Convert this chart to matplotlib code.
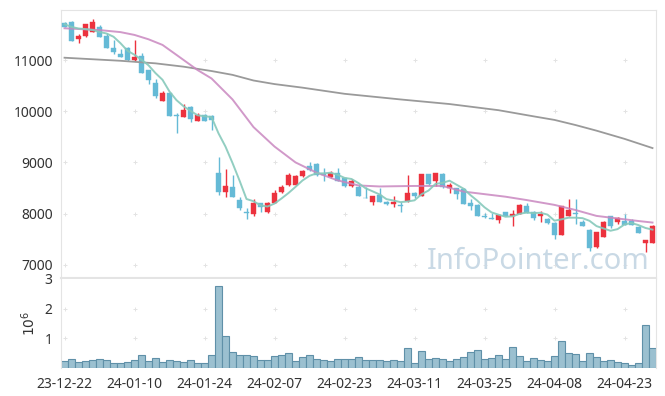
import numpy as np
import pandas as pd
import matplotlib
matplotlib.use("Agg")
import matplotlib.pyplot as plt

# ---------------- data ----------------
start_date = "2023-12-22"
holidays = ["2023-12-25", "2023-12-29", "2024-01-01", "2024-02-09",
            "2024-02-12", "2024-03-01", "2024-04-10"]

opens = [11720, 11740, 11420, 11475, 11550, 11640, 11470, 11235, 11125, 11235,
         11000, 11080, 10805, 10545, 10205, 10350, 9930, 9895, 10090, 9815,
         9925, 9905, 8790, 8430, 8515, 8265, 8040, 7990, 8200, 8040,
         8215, 8420, 8560, 8555, 8735, 8930, 8970, 8775, 8710, 8785,
         8690, 8540, 8515, 8310, 8235, 8365, 8235, 8180, 8170, 8250,
         8410, 8350, 8775, 8645, 8775, 8500, 8495, 8475, 8215, 8170,
         7950, 7920, 7875, 8025, 7955, 7995, 8150, 8040, 7955, 7890,
         7810, 7580, 7960, 8000, 7840, 7680, 7340, 7550, 7955, 7845,
         7855, 7855, 7745, 7420, 7435]
highs = [11740, 11760, 11510, 11710, 11795, 11685, 11535, 11390, 11210, 11260,
         11390, 11130, 10810, 10620, 10390, 10355, 9960, 10140, 10095, 9960,
         9950, 9925, 9110, 8865, 8750, 8330, 8105, 8280, 8210, 8230,
         8460, 8550, 8790, 8760, 8860, 9015, 8990, 8885, 8830, 8885,
         8700, 8670, 8560, 8525, 8350, 8495, 8240, 8345, 8235, 8755,
         8420, 8780, 8780, 8800, 8790, 8605, 8500, 8500, 8280, 8180,
         8005, 8010, 7975, 8040, 8070, 8190, 8210, 8050, 8055, 7920,
         7830, 8155, 8280, 8280, 7870, 7690, 7640, 7860, 7960, 7925,
         7990, 7900, 7760, 7490, 7770]
lows = [11640, 11370, 11330, 11450, 11545, 11450, 11225, 11110, 11060, 10975,
        10985, 10745, 10530, 10250, 10200, 9905, 9570, 9890, 9795, 9810,
        9810, 9630, 8365, 8320, 8325, 8070, 7890, 7955, 8040, 8010,
        8200, 8410, 8540, 8550, 8720, 8840, 8740, 8645, 8700, 8640,
        8520, 8520, 8340, 8295, 8170, 8230, 8170, 8135, 8040, 8230,
        8300, 8340, 8560, 8540, 8500, 8400, 8280, 8180, 8070, 7950,
        7915, 7885, 7825, 7945, 7760, 7990, 8010, 7880, 7840, 7800,
        7500, 7575, 7950, 7790, 7760, 7275, 7335, 7545, 7710, 7800,
        7770, 7770, 7625, 7255, 7430]
closes = [11650, 11380, 11470, 11700, 11735, 11455, 11230, 11155, 11065, 11000,
          11060, 10750, 10610, 10300, 10350, 9910, 9910, 10020, 9840, 9925,
          9815, 9830, 8430, 8540, 8330, 8105, 8020, 8215, 8135, 8215,
          8395, 8515, 8750, 8735, 8840, 8850, 8755, 8750, 8800, 8645,
          8540, 8645, 8350, 8300, 8345, 8235, 8180, 8220, 8140, 8410,
          8345, 8775, 8580, 8790, 8515, 8555, 8385, 8190, 8155, 7960,
          7925, 7890, 7965, 7955, 7995, 8170, 8020, 7910, 7990, 7810,
          7580, 8150, 8070, 7990, 7765, 7320, 7635, 7840, 7765, 7920,
          7780, 7780, 7630, 7485, 7760]
# closes of the 4 sessions before the window (for the 5-day average)
prior_closes = [11650, 11620, 11760, 11820]

volume_millions = [0.22, 0.28, 0.18, 0.22, 0.25, 0.28, 0.24, 0.15, 0.15, 0.18,
                   0.25, 0.41, 0.22, 0.32, 0.18, 0.25, 0.22, 0.18, 0.25, 0.15,
                   0.15, 0.41, 2.76, 1.07, 0.53, 0.41, 0.41, 0.38, 0.25, 0.25,
                   0.38, 0.41, 0.48, 0.22, 0.34, 0.41, 0.29, 0.25, 0.22, 0.28,
                   0.28, 0.28, 0.34, 0.24, 0.24, 0.24, 0.21, 0.24, 0.21, 0.66,
                   0.14, 0.55, 0.28, 0.31, 0.28, 0.21, 0.28, 0.34, 0.52, 0.59,
                   0.28, 0.31, 0.41, 0.28, 0.69, 0.38, 0.21, 0.31, 0.24, 0.21,
                   0.38, 0.90, 0.48, 0.45, 0.21, 0.48, 0.34, 0.21, 0.24, 0.17,
                   0.14, 0.10, 0.14, 1.45, 0.66]

# 20-day average
ma20_idx = [0, 5, 8, 10, 12, 14, 16, 19, 21, 24, 27, 30, 33, 36, 39, 42, 45,
            50, 54, 57, 60, 63, 66, 70, 73, 76, 79, 82, 84]
ma20_vals = [11620, 11585, 11545, 11490, 11405, 11295, 11100, 10805, 10640,
             10230, 9690, 9310, 9000, 8800, 8650, 8550, 8530, 8540, 8540, 8430,
             8380, 8330, 8265, 8170, 8070, 7955, 7905, 7855, 7825]
# long-term average
malong_idx = [0, 4, 8, 13, 17, 21, 24, 27, 30, 34, 40, 48, 55, 62, 67, 70, 73,
              76, 80, 84]
malong_vals = [11045, 11015, 10985, 10935, 10870, 10785, 10710, 10600, 10530,
               10460, 10340, 10230, 10140, 10020, 9900, 9830, 9730, 9620, 9460,
               9280]

price_ticks = [7000, 8000, 9000, 10000, 11000]
volume_ticks = [1, 2, 3]
watermark = "InfoPointer.com"

# ---------------- derived ----------------
dates = pd.bdate_range(start_date, periods=120)
dates = [d for d in dates if d.strftime("%Y-%m-%d") not in holidays][:len(closes)]
date_labels = [d.strftime("%y-%m-%d") for d in dates]
n = len(closes)
x = np.arange(n)
o = np.array(opens, float); h = np.array(highs, float)
l = np.array(lows, float); c = np.array(closes, float)
ma5 = pd.Series(prior_closes + closes).rolling(5).mean().to_numpy()[len(prior_closes):]
xtick_pos = x[::10]
xtick_lab = [date_labels[i] for i in xtick_pos]

plt.rcParams['font.family'] = ['Noto Sans', 'DejaVu Sans']

RED = '#ec323e'
BLUE = '#65bad6'
GRID = '#e3e3e3'
SPINE = '#e4e4e4'
TXT = '#333333'

fig = plt.figure(figsize=(6.65, 3.96), dpi=100)
W, H = 665, 396
ax = fig.add_axes([61 / W, 1 - 278 / H, 595 / W, 268 / H])
axv = fig.add_axes([61 / W, 1 - 367.5 / H, 595 / W, 88.5 / H])

# candles
up = c >= o
cols = np.where(up, RED, BLUE)
ax.vlines(x, l, h, colors=cols, linewidth=1.0, zorder=2)
bottoms = np.minimum(o, c)
heights = np.maximum(np.abs(c - o), 12)
ax.bar(x, heights, bottom=bottoms, width=0.68, color=cols, edgecolor=cols,
       linewidth=0.3, zorder=3)

# averages
ax.plot(malong_idx, malong_vals, color='#9a9a9a', lw=1.3, zorder=4)
ax.plot(ma20_idx, ma20_vals, color='#c987c0', lw=1.4, alpha=0.85, zorder=4)
ax.plot(x, ma5, color='#86c9bb', lw=1.4, alpha=0.9, zorder=5)

ax.set_xlim(-0.5, n - 0.5)
ax.set_ylim(6742, 11977)
ax.set_yticks(price_ticks)
ax.set_yticklabels([str(t) for t in price_ticks])
ax.set_xticks(xtick_pos)
ax.tick_params(axis='x', length=0, labelbottom=False)
ax.tick_params(axis='y', length=0, labelsize=10, colors=TXT, pad=6)
for s in ax.spines.values():
    s.set_color(SPINE)
ax.spines['bottom'].set_linewidth(1.5)
# "+" grid marks
gx, gy = np.meshgrid(xtick_pos, price_ticks)
ax.scatter(gx.ravel(), gy.ravel(), marker='+', s=12, color=GRID, linewidths=0.7,
           zorder=1)
ax.text(0.99, 0.035, watermark, transform=ax.transAxes, ha='right', va='baseline',
        fontsize=21, color='#c9d9e5', zorder=6)

# volume
axv.bar(x, volume_millions, width=1.0, color='#9bc0d0', edgecolor='#5f90a8',
        linewidth=0.8, zorder=2)
axv.set_xlim(-0.5, n - 0.5)
axv.set_ylim(0, 3.0)
axv.set_yticks(volume_ticks)
axv.set_yticklabels([str(t) for t in volume_ticks])
axv.set_xticks(xtick_pos)
axv.set_xticklabels(xtick_lab)
axv.tick_params(axis='x', length=0, labelsize=10, colors=TXT, pad=7)
axv.tick_params(axis='y', length=0, labelsize=10, colors=TXT, pad=6)
axv.set_ylabel(r'$10^6$', fontsize=10, color=TXT, labelpad=4)
for s in axv.spines.values():
    s.set_color(SPINE)
axv.spines['bottom'].set_visible(False)
axv.spines['top'].set_visible(False)
gx, gy = np.meshgrid(xtick_pos, volume_ticks[:-1])
axv.scatter(gx.ravel(), gy.ravel(), marker='+', s=12, color=GRID, linewidths=0.7,
            zorder=1)

fig.savefig("out.png", dpi=100)
